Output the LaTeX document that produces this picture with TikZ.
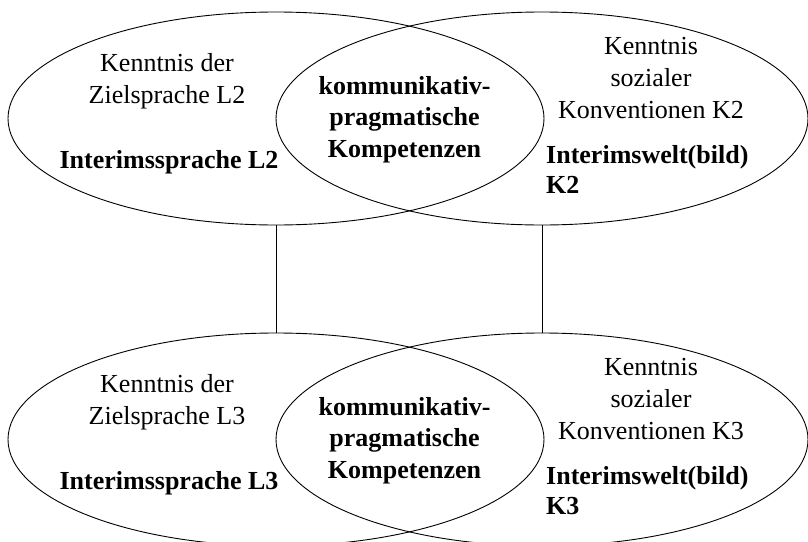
\documentclass[tikz,border=0pt]{standalone}
\usepackage{fontspec}
\setmainfont{Liberation Serif}
\usetikzlibrary{shapes.geometric}
\tikzset{
  kreis/.style={draw, ellipse, line width=0.9pt, inner sep=0pt, outer sep=0pt,
    minimum width=#1, minimum height=213pt},
  txt/.style={inner sep=0pt, font=\fontsize{26}{32}\selectfont, align=center},
  fett/.style={txt, font=\fontsize{26}{31.5}\selectfont\bfseries}
}
\begin{document}
\begin{tikzpicture}[x=1pt,y=-1pt]
\useasboundingbox (0,0) rectangle (808,541);
\foreach \n/\dy in {2/0,3/321}{
  % zwei Ellipsen je Ebene
  \node[kreis=536pt] (zs\n) at (276,118.5+\dy) {};
  \node[kreis=532pt] (kv\n) at (542,118.5+\dy) {};
  \node[txt, anchor=north] (zt\n) at (167,53+\dy) {Kenntnis der\\Zielsprache L\n};
  \node[fett, anchor=base] (il\n) at (169,168+\dy) {Interimssprache L\n};
  \node[fett, anchor=north] (kp\n) at (404.5,76+\dy) {kommunikativ-\\pragmatische\\Kompetenzen};
  \node[txt, anchor=north] (ks\n) at (651,37+\dy) {Kenntnis\\sozialer\\Konventionen K\n};
  \node[fett, anchor=north west, align=left,
    font=\fontsize{26}{30}\selectfont\bfseries] (iw\n) at (546,145+\dy) {Interimswelt(bild)\\K\n};
}
\draw[line width=0.9pt] (zs2.south) -- (zs3.north);
\draw[line width=0.9pt] (kv2.south) -- (kv3.north);
\end{tikzpicture}
\end{document}
